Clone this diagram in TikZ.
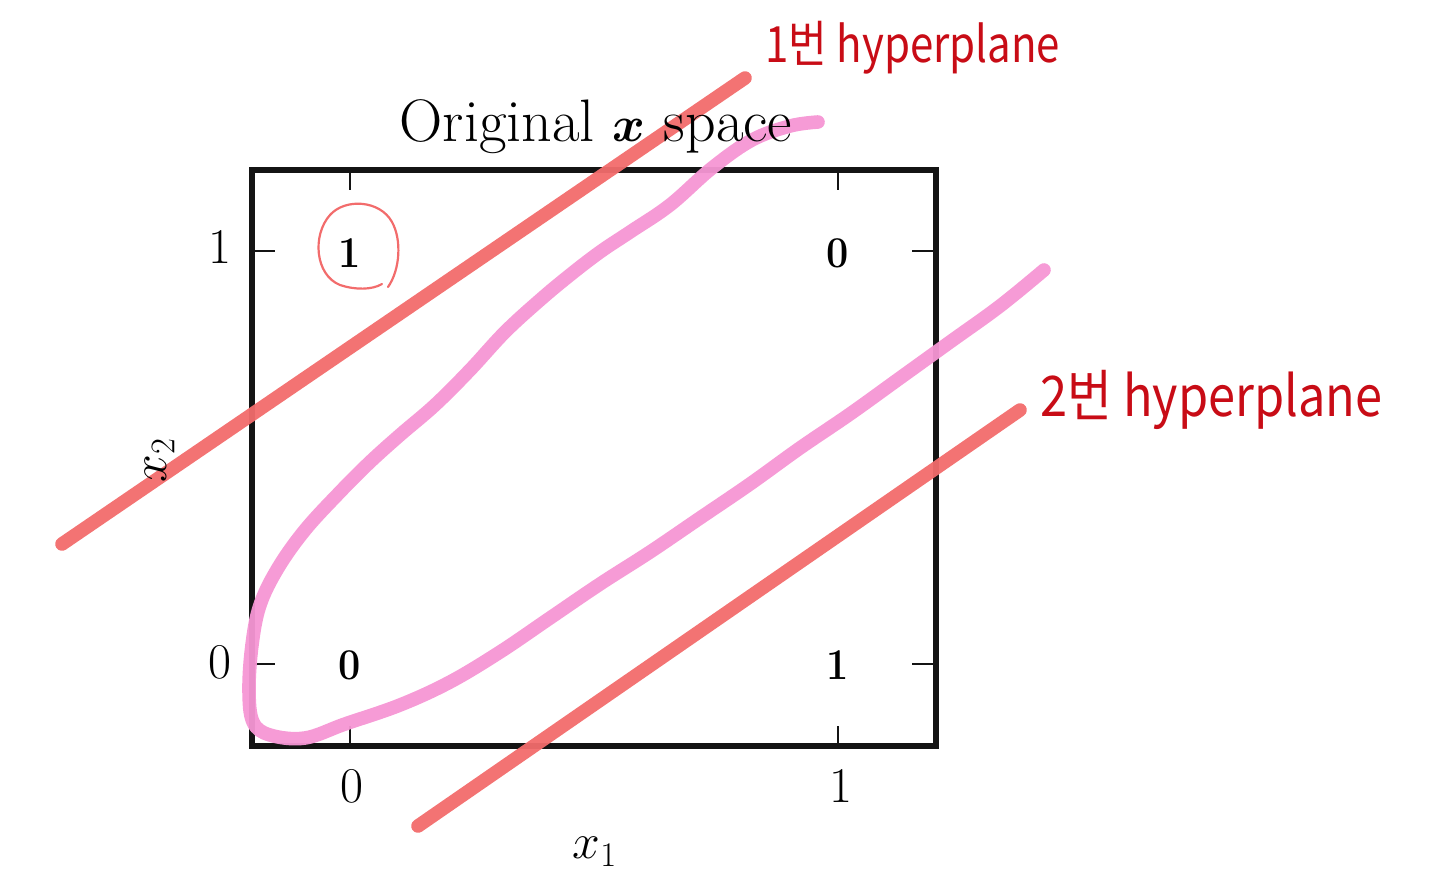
\documentclass[tikz,border=0pt]{standalone}
\usepackage{amsmath}
\usepackage{fontspec}
\newfontfamily\kfont{Noto Sans CJK KR}
\definecolor{boxblack}{RGB}{20,20,20}
\definecolor{hyperred}{RGB}{242,108,108}
\definecolor{curvepink}{RGB}{246,150,212}
\definecolor{inkred}{RGB}{200,12,22}
\tikzset{
  frame/.style={draw=boxblack,line width=2.6pt},
  tick/.style={draw=boxblack,line width=1.1pt},
  ticklab/.style={font=\fontsize{25}{27}\selectfont,inner sep=0pt},
  titlelab/.style={font=\fontsize{30}{32}\selectfont,inner sep=0pt},
  datalab/.style={font=\fontsize{22}{24}\selectfont\bfseries,inner sep=0pt,xscale=0.9},
  hyper/.style={draw=hyperred,line width=6.8pt,line cap=round,opacity=0.95},
  loop/.style={draw=curvepink,line width=6.8pt,line cap=round,line join=round,opacity=0.95},
  hand/.style={text=inkred,inner sep=0pt},
}
\begin{document}
\begin{tikzpicture}[x=0.5pt,y=-0.5pt]
\useasboundingbox (0,0) rectangle (1440,879);
% frame
\draw[frame] (252,170) rectangle (936,746);
% ticks
\draw[tick] (350,170) -- (350,190);
\draw[tick] (838,170) -- (838,190);
\draw[tick] (350,746) -- (350,726);
\draw[tick] (838,746) -- (838,726);
\draw[tick] (252,251) -- (275,251);
\draw[tick] (252,664) -- (275,664);
\draw[tick] (936,251) -- (912,251);
\draw[tick] (936,664) -- (912,664);
% tick labels
\node[ticklab] (y1) at (220,247) {1};
\node[ticklab] (y0) at (220,662) {0};
\node[ticklab] (x0) at (352,786) {0};
\node[ticklab] (x1) at (841,786) {1};
% axis labels
\node[ticklab] (xl) at (595,852) {$x_1$};
% data labels
\node[datalab] (d11) at (350,253) {1};
\node[datalab] (d10) at (838,253) {0};
\node[datalab] (d00) at (350,665) {0};
\node[datalab] (d01) at (838,665) {1};
% circle around top-left 1
\draw[hyperred,line width=1.1pt,line cap=round]
  (388,287) .. controls (400,270) and (402,240) .. (392,222)
  .. controls (380,200) and (345,198) .. (330,215)
  .. controls (312,235) and (315,275) .. (340,285)
  .. controls (355,290) and (372,290) .. (382,284);
% pink curve
\draw[loop] plot[smooth,tension=0.6] coordinates {
 (818,122) (790,126) (752,140) (712,168) (670,205) (630,232) (600,252)
 (570,275) (540,300) (505,332) (470,370) (435,405) (400,435) (370,462)
 (340,492) (305,530) (278,568) (260,605) (252,645) (249,690) (253,722)
 (270,735) (305,738) (345,724) (400,705) (450,682) (500,652) (550,618)
 (600,584) (650,552) (700,518) (750,484) (800,448) (850,414) (900,378)
 (950,342) (1000,306) (1044,270)};
% hyperplanes
\coordinate (h1a) at (62,544);
\coordinate (h1b) at (745,78);
\coordinate (h2a) at (418,826);
\coordinate (h2b) at (1020,410);
\draw[hyper] (h1a) -- (h1b);
\draw[hyper] (h2a) -- (h2b);
% texts drawn over the strokes
\node[titlelab] (title) at (596,127) {Original $\boldsymbol{x}$ space};
\node[ticklab,rotate=90] (yl) at (160,460) {$x_2$};
% handwritten labels
\node[hand,anchor=west,font=\kfont\fontsize{25}{26}\selectfont,xscale=0.84] (lab1) at (765,48) {1번 hyperplane};
\node[hand,anchor=west,font=\kfont\fontsize{28}{30}\selectfont,xscale=0.87] (lab2) at (1040,400) {2번 hyperplane};
\end{tikzpicture}
\end{document}
